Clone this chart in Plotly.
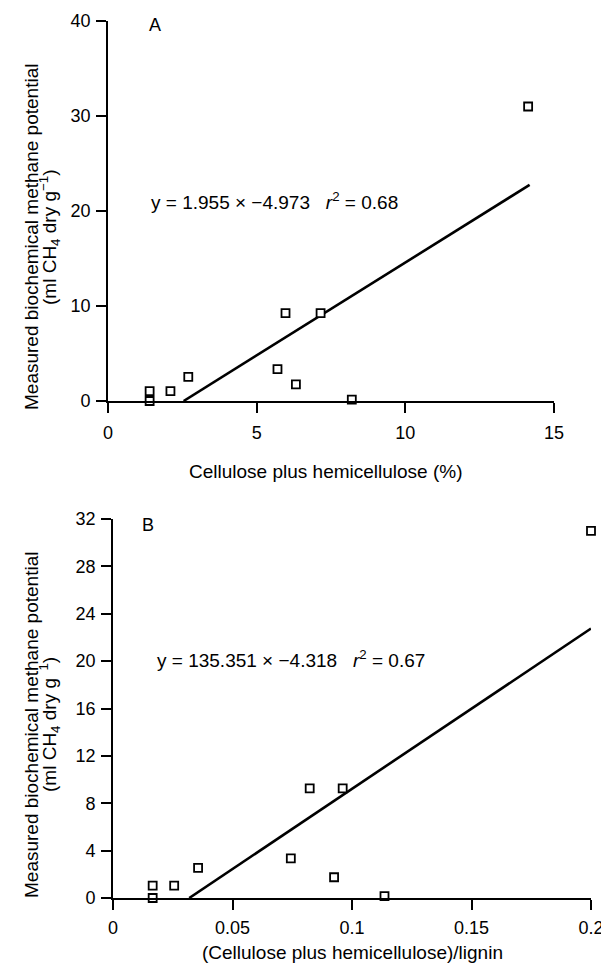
import plotly.graph_objects as go

# ---- data ----
bmp = [1.05, 0.0, 1.05, 2.55, 9.25, 9.25, 3.35, 1.75, 0.15, 31.0]
cell_hemi = [1.40, 1.40, 2.10, 2.70, 5.97, 7.15, 5.70, 6.32, 8.20, 14.13]
ratio_lignin = [0.0166, 0.0166, 0.0256, 0.0356, 0.0823, 0.0961, 0.0744, 0.0925, 0.1136, 0.2000]

fit_a = {"slope": 1.955, "intercept": -4.973, "x_end": 14.18}
fit_b = {"slope": 135.351, "intercept": -4.318, "x_end": 0.2}

xticks_a = [0, 5, 10, 15]
yticks_a = [0, 10, 20, 30, 40]
xticks_b = [0, 0.05, 0.1, 0.15, 0.2]
xticklabels_b = ["0", "0.05", "0.1", "0.15", "0.2"]
yticks_b = [0, 4, 8, 12, 16, 20, 24, 28, 32]

eq_a = "y = 1.955 × −4.973\u00a0\u00a0\u00a0<i>r</i><sup>2</sup> = 0.68"
eq_b = "y = 135.351 × −4.318\u00a0\u00a0\u00a0<i>r</i><sup>2</sup> = 0.67"
ytitle_1 = "Measured biochemical methane potential"
ytitle_2a = "(ml CH<sub>4</sub> dry g<sup>−1</sup>)"
ytitle_2b = "(ml CH<sub>4</sub> dry g<sup>\u00a0\u00a01</sup>)"
xtitle_a = "Cellulose plus hemicellulose (%)"
xtitle_b = "(Cellulose plus hemicellulose)/lignin"

FONT = "Liberation Sans"
OFF = 8            # page body margin of the html page
W, H = 609 - OFF, 978 - 2 * OFF


def px(x):
    return (x - OFF) / W


def py(y):
    return 1 - (y - OFF) / H


def fit_line(fit):
    x0 = -fit["intercept"] / fit["slope"]
    x1 = fit["x_end"]
    xs = [x0, x1]
    ys = [fit["slope"] * x + fit["intercept"] for x in xs]
    return xs, ys


fig = go.Figure()

for xs_pts, fit, xa, ya in [
    (cell_hemi, fit_a, "x", "y"),
    (ratio_lignin, fit_b, "x2", "y2"),
]:
    lx, ly = fit_line(fit)
    fig.add_trace(go.Scatter(
        x=lx, y=ly, mode="lines", xaxis=xa, yaxis=ya,
        line=dict(color="black", width=2.6), showlegend=False, hoverinfo="skip",
        cliponaxis=False,
    ))
    fig.add_trace(go.Scatter(
        x=xs_pts, y=bmp, mode="markers", xaxis=xa, yaxis=ya,
        marker=dict(symbol="square", size=8, color="white",
                    line=dict(color="black", width=1.8)),
        showlegend=False, cliponaxis=False,
    ))

axis_common = dict(
    showline=True, linecolor="black", linewidth=1.8,
    ticks="outside", ticklen=10, tickwidth=1.6, tickcolor="black",
    showgrid=False, zeroline=False, automargin=False,
    tickfont=dict(family=FONT, size=18, color="black"),
)

fig.update_layout(
    template="none",
    width=W, height=H,
    margin=dict(l=0, r=0, t=0, b=0, pad=0),
    paper_bgcolor="white", plot_bgcolor="white",
    font=dict(family=FONT, size=18, color="black"),
    xaxis=dict(domain=[px(108), px(554)], range=[0, 15], tickvals=xticks_a,
               anchor="y", ticklabelstandoff=4, **axis_common),
    yaxis=dict(domain=[py(401), py(21)], range=[0, 40], tickvals=yticks_a,
               anchor="x", ticklabelstandoff=2, **axis_common),
    xaxis2=dict(domain=[px(113), px(591)], range=[0, 0.2], tickvals=xticks_b,
                ticktext=xticklabels_b, anchor="y2", ticklabelstandoff=2, **axis_common),
    yaxis2=dict(domain=[py(898), py(519)], range=[0, 32], tickvals=yticks_b,
                anchor="x2", ticklabelstandoff=2, **axis_common),
)

ann = []
# panel letters
ann.append(dict(text="A", x=1.31, y=39.6, xref="x", yref="y", xanchor="left",
                yanchor="middle", showarrow=False, font=dict(family=FONT, size=18)))
ann.append(dict(text="B", x=0.0113, y=31.5, xref="x2", yref="y2", xanchor="left",
                yanchor="middle", showarrow=False, font=dict(family=FONT, size=18)))
# equations
ann.append(dict(text=eq_a, x=1.38, y=21.1, xref="x", yref="y", xanchor="left",
                yanchor="middle", showarrow=False, font=dict(family=FONT, size=19)))
ann.append(dict(text=eq_b, x=0.0176, y=20.2, xref="x2", yref="y2", xanchor="left",
                yanchor="middle", showarrow=False, font=dict(family=FONT, size=19)))
# y titles
for cy, l2 in [(237, ytitle_2a), (725, ytitle_2b)]:
    ann.append(dict(text=ytitle_1, x=px(31), y=py(cy), xref="paper", yref="paper",
                    xanchor="center", yanchor="middle", textangle=-90, showarrow=False,
                    font=dict(family=FONT, size=19)))
    ann.append(dict(text=l2, x=px(49), y=py(cy), xref="paper", yref="paper",
                    xanchor="center", yanchor="middle", textangle=-90, showarrow=False,
                    font=dict(family=FONT, size=19)))
# x titles
ann.append(dict(text=xtitle_a, x=px(326), y=py(471), xref="paper", yref="paper",
                xanchor="center", yanchor="middle", showarrow=False,
                font=dict(family=FONT, size=19)))
ann.append(dict(text=xtitle_b, x=px(352), y=py(952), xref="paper", yref="paper",
                xanchor="center", yanchor="middle", showarrow=False,
                font=dict(family=FONT, size=19)))
fig.update_layout(annotations=ann)

fig.write_html("out.html")
